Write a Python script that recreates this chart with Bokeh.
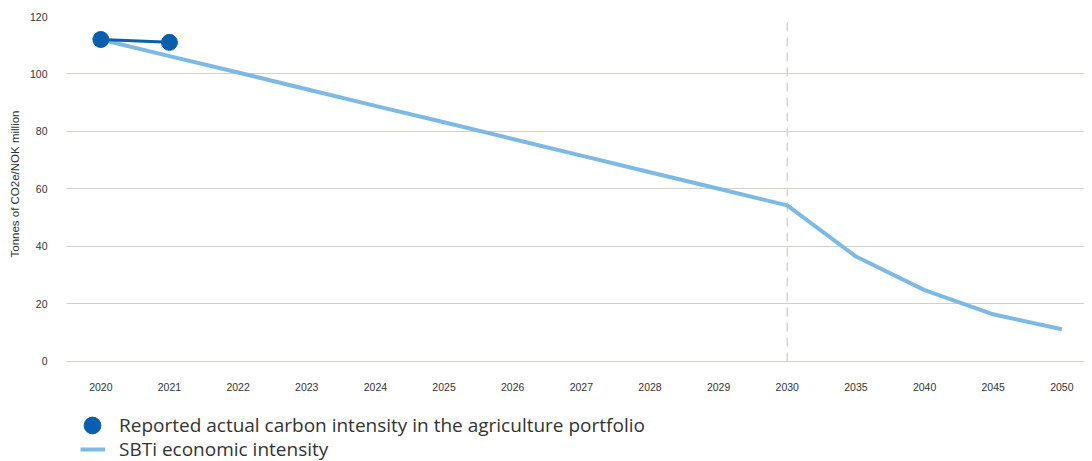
from bokeh.plotting import figure
from bokeh.models import Range1d, Legend, LegendItem, FixedTicker, LinearAxis, Title
from bokeh.embed import file_html
from bokeh.resources import INLINE

years = ["2020", "2021", "2022", "2023", "2024", "2025", "2026", "2027", "2028", "2029",
         "2030", "2035", "2040", "2045", "2050"]
sbti = [112.0, 106.2, 100.5, 94.7, 88.9, 83.2, 77.4, 71.6, 65.8, 60.1,
        54.3, 36.5, 24.8, 16.4, 11.2]
reported_years = ["2020", "2021"]
reported = [112.0, 111.0]
y_ticks = [0, 20, 40, 60, 80, 100, 120]
marker_year = "2030"
y_title = "Tonnes of CO2e/NOK million"

xpos = list(range(len(years)))
rep_x = [years.index(y) for y in reported_years]
mx = years.index(marker_year)

TICK_FONT = "Liberation Sans"
LEG_FONT = "Open Sans"

p = figure(width=1084, height=461, output_backend="svg", toolbar_location=None,
           x_range=Range1d(-0.5, 14.33), y_range=Range1d(-34.8, 120),
           x_axis_location=None,
           min_border_left=56, min_border_right=0, min_border_top=16, min_border_bottom=0)
p.outline_line_color = None
p.background_fill_color = "white"
p.border_fill_color = "white"

xaxis = LinearAxis(fixed_location=0)
p.add_layout(xaxis, "below")

p.xgrid.grid_line_color = None
p.ygrid.grid_line_color = "#d6cfc6"
p.ygrid.grid_line_width = 1
p.ygrid.ticker = FixedTicker(ticks=y_ticks)

xaxis.ticker = FixedTicker(ticks=xpos)
xaxis.major_label_overrides = {i: y for i, y in enumerate(years)}
p.yaxis.ticker = FixedTicker(ticks=y_ticks)
for ax in (xaxis, p.yaxis[0]):
    ax.axis_line_color = None
    ax.major_tick_line_color = None
    ax.minor_tick_line_color = None
    ax.major_label_text_font = TICK_FONT
    ax.major_label_text_font_size = "10.5px"
    ax.major_label_text_color = "#333333"
xaxis.major_label_standoff = 16
p.yaxis.major_label_standoff = 13

ytitle = Title(text=y_title, align="left", offset=204, text_font=TICK_FONT,
               text_font_size="11.5px", text_font_style="normal",
               text_color="#333333", standoff=12)
p.add_layout(ytitle, "left")

p.segment(x0=[mx], y0=[y_ticks[0]], x1=[mx], y1=[y_ticks[-1]],
          line_color="#d9d4cf", line_width=1.5, line_dash="9 6")

sb = p.line(xpos, sbti, line_color="#7cb9e4", line_width=4)
rl = p.line(rep_x, reported, line_color="#0a5fad", line_width=3)
rc = p.scatter(rep_x, reported, size=16, fill_color="#0a5fad", line_color="#0a5fad")

leg_style = dict(label_text_font=LEG_FONT, label_text_font_size="19px",
                 label_text_color="#333333", padding=0, margin=0, spacing=0,
                 border_line_color=None, background_fill_alpha=0)

legend1 = Legend(items=[
    LegendItem(label="Reported actual carbon intensity in the agriculture portfolio", renderers=[rc]),
], location=(5, 15), glyph_width=42, glyph_height=42, label_height=42,
   label_standoff=6, **leg_style)
legend2 = Legend(items=[
    LegendItem(label="SBTi economic intensity", renderers=[sb]),
], location=(14, -1), glyph_width=25, glyph_height=24, label_height=24,
   label_standoff=14, **leg_style)
p.add_layout(legend1, "center")
p.add_layout(legend2, "center")

open("out.html", "w").write(file_html(p, INLINE))
